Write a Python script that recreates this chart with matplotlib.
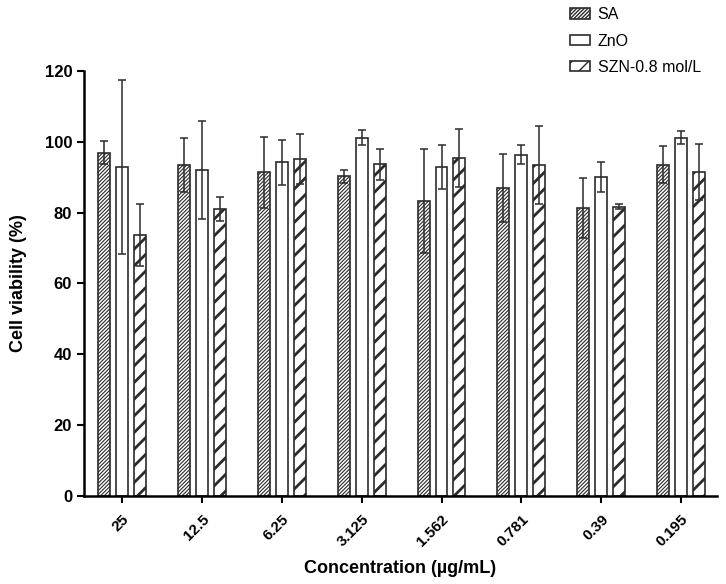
import numpy as np
import matplotlib
matplotlib.use("Agg")
import matplotlib.pyplot as plt

plt.rcParams['font.family'] = ['Liberation Sans', 'DejaVu Sans']

# ── data ──
concentrations = ["25", "12.5", "6.25", "3.125", "1.562", "0.781", "0.39", "0.195"]
sa_mean  = [96.9, 93.4, 91.4, 90.2, 83.2, 86.9, 81.3, 93.5]
sa_err   = [3.2, 7.6, 10.0, 1.9, 14.7, 9.7, 8.5, 5.2]
zno_mean = [92.9, 92.1, 94.2, 101.2, 93.0, 96.4, 90.1, 101.2]
zno_err  = [24.5, 13.8, 6.4, 2.1, 6.2, 2.8, 4.3, 1.8]
szn_mean = [73.6, 80.9, 95.1, 93.6, 95.3, 93.5, 81.6, 91.5]
szn_err  = [8.8, 3.4, 7.1, 4.5, 8.2, 11.0, 0.7, 8.0]

series = [
    ("SA", sa_mean, sa_err, "/////////", 0.8),
    ("ZnO", zno_mean, zno_err, None, 1.0),
    ("SZN-0.8 mol/L", szn_mean, szn_err, "//", 2.0),
]

x = np.arange(len(concentrations))
width = 0.15
offsets = [-0.225, 0.0, 0.225]

fig = plt.figure(figsize=(7.26, 5.84), dpi=100)
ax = fig.add_axes([0.1157, 0.1512, 0.872, 0.7272])

edge = "#2b2b2b"
for (name, mean, err, hatch, hlw), off in zip(series, offsets):
    bars = ax.bar(x + off, mean, width, color="white", edgecolor=edge,
                  linewidth=1.2, hatch=hatch, label=name, zorder=2)
    for b in bars:
        if hasattr(b, "set_hatch_linewidth"):
            b.set_hatch_linewidth(hlw)
    ax.errorbar(x + off, mean, yerr=err, fmt="none", ecolor=edge,
                elinewidth=1.1, capsize=3, capthick=1.1, zorder=3)

ax.set_ylim(0, 120)
ax.set_xlim(-0.476, 7.45)
ax.set_yticks(np.arange(0, 121, 20))
ax.set_xticks(x)
ax.set_xticklabels(concentrations, rotation=45, ha="right", rotation_mode="anchor",
                   fontweight="bold", fontsize=11)
for lab in ax.get_yticklabels():
    lab.set_fontweight("bold")
    lab.set_fontsize(12)

for s in ["top", "right"]:
    ax.spines[s].set_visible(False)
for s in ["left", "bottom"]:
    ax.spines[s].set_linewidth(1.8)
ax.tick_params(axis="both", direction="out", length=5, width=1.5)
ax.tick_params(axis="x", pad=7)

ax.set_ylabel("Cell viability (%)", fontweight="bold", fontsize=13, labelpad=13)
ax.set_xlabel("Concentration (µg/mL)", fontweight="bold", fontsize=13, labelpad=8)

fig.legend(loc="upper left", bbox_to_anchor=(0.765, 1.012), frameon=False,
           fontsize=11.5, handlelength=1.25, handleheight=0.65, labelspacing=0.7,
           handletextpad=0.5)

fig.savefig("out.png", dpi=100)
